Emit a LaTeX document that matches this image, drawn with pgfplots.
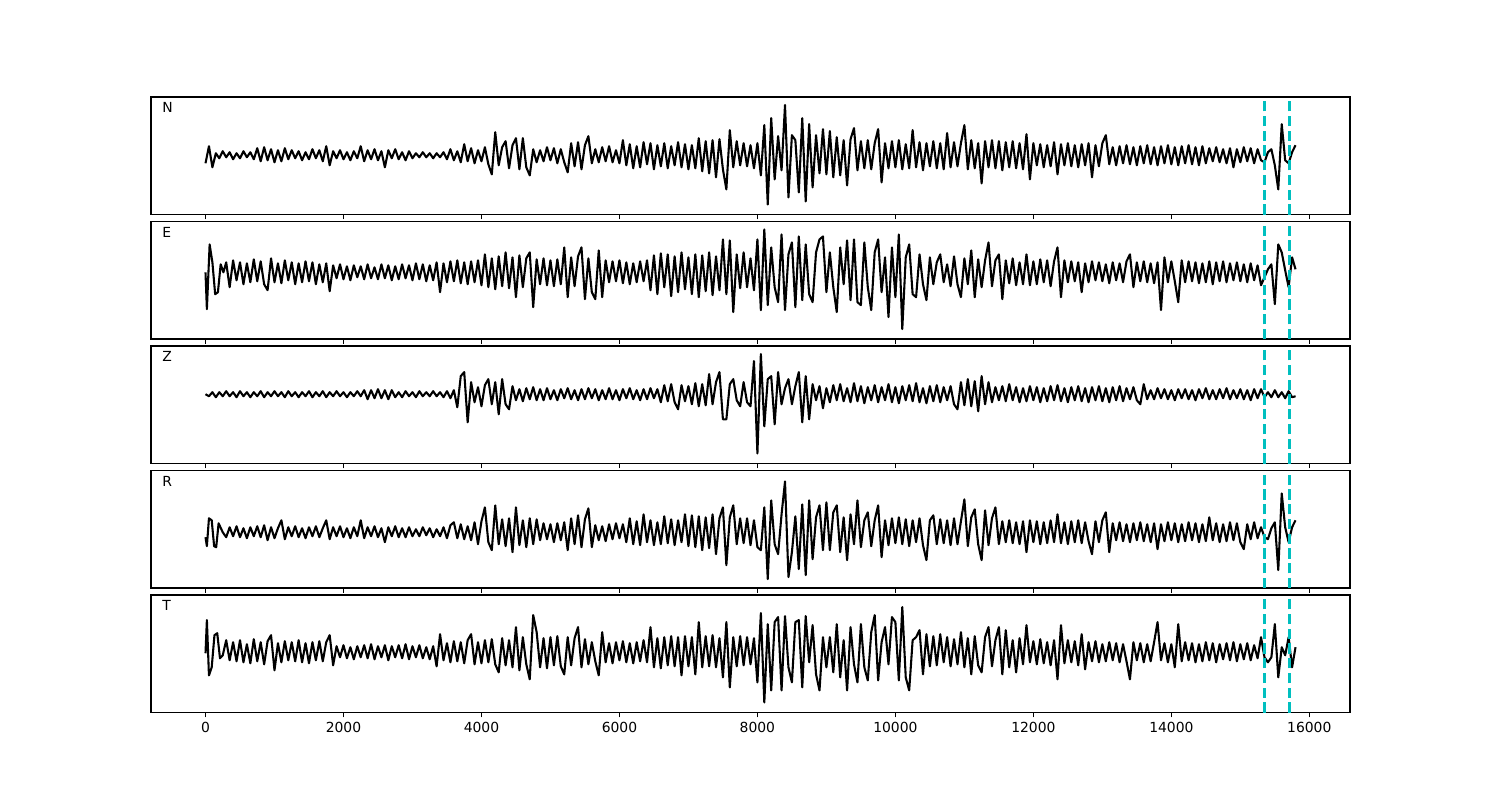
\documentclass[border=0pt]{standalone}
\usepackage{fontspec}
\setmainfont{DejaVu Sans}
\usepackage{pgfplots}
\pgfplotsset{compat=1.18}
\definecolor{dcyan}{HTML}{00BFBF}
\tikzset{lab/.style={anchor=north west, inner sep=0pt, font=\fontsize{10}{12}\selectfont}}
\pgfplotsset{
  panel/.style={
    scale only axis, width=863.3pt, height=84.6pt,
    xmin=-790, xmax=16590,
    ytick=\empty,
    xtick={0,2000,...,16000},
    xtick pos=left,
    tick align=outside,
    major tick length=3.5pt,
    axis line style={line width=0.8pt},
    every tick/.style={black, line width=0.8pt},
    tick label style={font=\fontsize{10}{12}\selectfont},
    /pgf/number format/assume math mode=true,
    /pgf/number format/1000 sep={},
    scaled x ticks=false,
    anchor=north west,
  },
  trace/.style={black, line width=1.5pt, no markers, line join=round},
  vline/.style={dcyan, line width=2pt, dash pattern=on 7.4pt off 3.2pt, no markers},
}
\begin{document}
\begin{tikzpicture}
\useasboundingbox (0,0) rectangle (1080pt,-576pt);
% ---------------- N ----------------
\begin{axis}[panel, at={(108.72pt,-69.84pt)}, ymin=-59, ymax=58, xticklabels={}]
\addplot[trace] coordinates {
(0,-8)(50,9)(100,-12)(150,2)(200,-3)(250,4)(300,-2)(350,3)(400,-4)(450,2)(500,-3)(550,4)(600,-2)(650,3)(700,-4)(750,7)(800,-6)(850,8)(900,-5)(950,6)
(1000,-7)(1050,5)(1100,-6)(1150,7)(1200,-4)(1250,5)(1300,-3)(1350,4)(1400,-5)(1450,3)(1500,-4)(1550,6)(1600,-3)(1650,5)(1700,-6)(1750,9)(1800,-10)(1850,4)(1900,-3)(1950,5)
(2000,-4)(2050,3)(2100,-5)(2150,4)(2200,-3)(2250,9)(2300,-6)(2350,5)(2400,-4)(2450,6)(2500,-5)(2550,4)(2600,-12)(2650,5)(2700,-3)(2750,6)(2800,-4)(2850,3)(2900,-5)(2950,4)
(3000,-3)(3050,2)(3100,-2)(3150,3)(3200,-2)(3250,2)(3300,-3)(3350,2)(3400,-2)(3450,3)(3500,-4)(3550,6)(3600,-5)(3650,4)(3700,-7)(3750,11)(3800,-6)(3850,7)(3900,-8)(3950,5)
(4000,-6)(4050,8)(4100,-9)(4150,-19)(4200,23)(4250,-10)(4300,8)(4350,14)(4400,-13)(4450,10)(4500,17)(4550,-14)(4600,17)(4650,-12)(4700,-20)(4750,6)(4800,-7)(4850,5)(4900,-6)(4950,8)
(5000,-5)(5050,7)(5100,-8)(5150,6)(5200,-7)(5250,-17)(5300,12)(5350,-11)(5400,13)(5450,-14)(5500,10)(5550,19)(5600,-8)(5650,6)(5700,-7)(5750,8)(5800,-6)(5850,9)(5900,-7)(5950,5)
(6000,-8)(6050,15)(6100,-10)(6150,11)(6200,-13)(6250,9)(6300,-12)(6350,13)(6400,-9)(6450,12)(6500,-14)(6550,10)(6600,-11)(6650,12)(6700,-13)(6750,9)(6800,-10)(6850,13)(6900,-12)(6950,11)
(7000,-14)(7050,10)(7100,-13)(7150,17)(7200,-16)(7250,14)(7300,-18)(7350,15)(7400,-22)(7450,16)(7500,-14)(7550,-34)(7600,25)(7650,-12)(7700,14)(7750,-10)(7800,12)(7850,-11)(7900,10)(7950,-13)
(8000,12)(8050,-20)(8100,30)(8150,-49)(8200,37)(8250,-24)(8300,19)(8350,-15)(8400,50)(8450,-42)(8500,20)(8550,15)(8600,-37)(8650,37)(8700,-46)(8750,31)(8800,-32)(8850,20)(8900,-18)(8950,26)
(9000,-19)(9050,24)(9100,-22)(9150,18)(9200,-20)(9250,15)(9300,-30)(9350,16)(9400,27)(9450,-15)(9500,14)(9550,-13)(9600,15)(9650,-14)(9700,12)(9750,26)(9800,-27)(9850,12)(9900,-13)(9950,14)
(10000,-12)(10050,15)(10100,-14)(10150,11)(10200,-13)(10250,25)(10300,-12)(10350,13)(10400,-15)(10450,12)(10500,-11)(10550,14)(10600,-13)(10650,12)(10700,-14)(10750,22)(10800,-12)(10850,13)(10900,-11)(10950,12)
(11000,30)(11050,-14)(11100,15)(11150,-13)(11200,12)(11250,-28)(11300,14)(11350,-12)(11400,15)(11450,-13)(11500,14)(11550,-15)(11600,13)(11650,-12)(11700,14)(11750,-13)(11800,12)(11850,-14)(11900,21)(11950,-24)
(12000,12)(12050,-10)(12100,11)(12150,-12)(12200,10)(12250,-11)(12300,13)(12350,-19)(12400,11)(12450,-10)(12500,12)(12550,-11)(12600,10)(12650,-12)(12700,11)(12750,-10)(12800,12)(12850,-22)(12900,10)(12950,-11)
(13000,12)(13050,20)(13100,-9)(13150,8)(13200,-10)(13250,9)(13300,-8)(13350,10)(13400,-9)(13450,8)(13500,-10)(13550,9)(13600,-8)(13650,10)(13700,-9)(13750,8)(13800,-10)(13850,9)(13900,-8)(13950,10)
(14000,-9)(14050,8)(14100,-10)(14150,9)(14200,-8)(14250,10)(14300,-9)(14350,8)(14400,-10)(14450,9)(14500,-8)(14550,7)(14600,-6)(14650,8)(14700,-7)(14750,6)(14800,-8)(14850,7)(14900,-12)(14950,6)
(15000,-7)(15050,8)(15100,-6)(15150,7)(15200,-8)(15250,6)(15300,-5)(15350,-7)(15400,3)(15450,6)(15500,-10)(15550,-34)(15600,31)(15650,-5)(15700,-8)(15750,3)(15800,10)
};
\addplot[vline] coordinates {(15350,-59)(15350,58)};
\addplot[vline] coordinates {(15710,-59)(15710,58)};
\node[lab] at (rel axis cs:0.0092,0.955) {N};
\end{axis}
% ---------------- E ----------------
\begin{axis}[panel, at={(108.72pt,-159.48pt)}, ymin=-67, ymax=51, xticklabels={}]
\addplot[trace] coordinates {
(0,0)(20,-37)(60,28)(100,10)(140,-22)(180,-20)(220,8)(260,0)(300,10)(350,-15)(400,12)(450,-8)(500,10)(550,-12)(600,9)(650,-10)(700,13)(750,-9)(800,11)(850,-12)(900,-18)(950,14)
(1000,-10)(1050,9)(1100,-11)(1150,12)(1200,-8)(1250,10)(1300,-12)(1350,9)(1400,-10)(1450,11)(1500,-9)(1550,10)(1600,-12)(1650,8)(1700,-10)(1750,9)(1800,-19)(1850,7)(1900,-6)(1950,8)
(2000,-7)(2050,6)(2100,-8)(2150,7)(2200,-5)(2250,6)(2300,-7)(2350,8)(2400,-6)(2450,5)(2500,-7)(2550,8)(2600,-6)(2650,7)(2700,-8)(2750,6)(2800,-7)(2850,8)(2900,-6)(2950,7)
(3000,-8)(3050,9)(3100,-7)(3150,8)(3200,-9)(3250,7)(3300,-8)(3350,10)(3400,-20)(3450,9)(3500,-10)(3550,11)(3600,-9)(3650,12)(3700,-11)(3750,10)(3800,-12)(3850,11)(3900,-10)(3950,12)
(4000,-13)(4050,18)(4100,-15)(4150,14)(4200,-17)(4250,16)(4300,-14)(4350,20)(4400,-16)(4450,15)(4500,-25)(4550,17)(4600,-15)(4650,14)(4700,20)(4750,-35)(4800,13)(4850,-12)(4900,14)(4950,-13)
(5000,12)(5050,-14)(5100,13)(5150,-12)(5200,25)(5250,-25)(5300,15)(5350,-14)(5400,16)(5450,25)(5500,-27)(5550,14)(5600,-20)(5650,-27)(5700,22)(5750,-25)(5800,12)(5850,-10)(5900,11)(5950,-9)
(6000,12)(6050,-11)(6100,10)(6150,-12)(6200,9)(6250,-10)(6300,11)(6350,-9)(6400,12)(6450,-18)(6500,17)(6550,-22)(6600,19)(6650,-15)(6700,18)(6750,-24)(6800,16)(6850,-20)(6900,20)(6950,-17)
(7000,15)(7050,-22)(7100,18)(7150,-25)(7200,17)(7250,-19)(7300,20)(7350,-23)(7400,16)(7450,-18)(7500,33)(7550,-22)(7600,32)(7650,-40)(7700,18)(7750,-16)(7800,20)(7850,-15)(7900,14)(7950,-18)
(8000,33)(8050,-38)(8100,43)(8150,-33)(8200,25)(8250,-15)(8300,-30)(8350,38)(8400,-38)(8450,18)(8500,30)(8550,-35)(8600,36)(8650,-28)(8700,28)(8750,-22)(8800,-30)(8850,20)(8900,33)(8950,36)
(9000,-20)(9050,20)(9100,-15)(9150,-40)(9200,25)(9250,-12)(9300,32)(9350,-28)(9400,33)(9450,-30)(9500,-33)(9550,30)(9600,-15)(9650,-38)(9700,20)(9750,33)(9800,-20)(9850,15)(9900,-45)(9950,25)
(10000,-25)(10050,38)(10100,-57)(10150,15)(10200,28)(10250,-22)(10300,-25)(10350,18)(10400,-12)(10450,-28)(10500,15)(10550,-12)(10600,10)(10650,18)(10700,-10)(10750,8)(10800,-14)(10850,16)(10900,-12)(10950,-25)
(11000,14)(11050,-12)(11100,22)(11150,-25)(11200,13)(11250,-15)(11300,12)(11350,30)(11400,-14)(11450,12)(11500,18)(11550,-27)(11600,12)(11650,-11)(11700,14)(11750,-13)(11800,10)(11850,-12)(11900,18)(11950,-13)
(12000,11)(12050,-12)(12100,13)(12150,-10)(12200,12)(12250,-14)(12300,11)(12350,25)(12400,-25)(12450,12)(12500,-10)(12550,11)(12600,-9)(12650,10)(12700,-20)(12750,9)(12800,-10)(12850,11)(12900,-8)(12950,10)
(13000,-9)(13050,8)(13100,-11)(13150,10)(13200,-8)(13250,9)(13300,-10)(13350,11)(13400,18)(13450,-15)(13500,10)(13550,-9)(13600,11)(13650,-10)(13700,9)(13750,-11)(13800,10)(13850,-38)(13900,15)(13950,-10)
(14000,11)(14050,-9)(14100,-30)(14150,12)(14200,-10)(14250,11)(14300,-9)(14350,10)(14400,-11)(14450,9)(14500,-10)(14550,11)(14600,-12)(14650,10)(14700,-9)(14750,11)(14800,-10)(14850,9)(14900,-8)(14950,10)
(15000,-9)(15050,8)(15100,-10)(15150,9)(15200,-8)(15250,7)(15300,-13)(15350,-5)(15400,3)(15450,8)(15500,-32)(15550,28)(15600,20)(15650,2)(15700,-15)(15750,15)(15800,3)
};
\addplot[vline] coordinates {(15350,-67)(15350,51)};
\addplot[vline] coordinates {(15710,-67)(15710,51)};
\node[lab] at (rel axis cs:0.0092,0.955) {E};
\end{axis}
% ---------------- Z ----------------
\begin{axis}[panel, at={(108.72pt,-249.12pt)}, ymin=-69, ymax=48, xticklabels={}]
\addplot[trace] coordinates {
(0,0)(50,-2)(100,2)(150,-3)(200,2)(250,-2)(300,3)(350,-2)(400,2)(450,-3)(500,3)(550,-2)(600,2)(650,-3)(700,2)(750,-2)(800,3)(850,-3)(900,2)(950,-2)
(1000,3)(1050,-2)(1100,2)(1150,-3)(1200,3)(1250,-2)(1300,2)(1350,-3)(1400,2)(1450,-2)(1500,3)(1550,-3)(1600,2)(1650,-2)(1700,3)(1750,-3)(1800,2)(1850,-2)(1900,3)(1950,-2)
(2000,2)(2050,-3)(2100,2)(2150,-2)(2200,3)(2250,-2)(2300,4)(2350,-5)(2400,4)(2450,-4)(2500,5)(2550,-4)(2600,4)(2650,-5)(2700,4)(2750,-3)(2800,2)(2850,-3)(2900,3)(2950,-2)
(3000,2)(3050,-3)(3100,3)(3150,-2)(3200,2)(3250,-2)(3300,3)(3350,-2)(3400,2)(3450,-3)(3500,3)(3550,-4)(3600,4)(3650,-13)(3700,18)(3750,22)(3800,-28)(3850,12)(3900,-8)(3950,7)
(4000,-12)(4050,9)(4100,15)(4150,-10)(4200,12)(4250,-20)(4300,15)(4350,-10)(4400,-15)(4450,8)(4500,-6)(4550,5)(4600,-7)(4650,6)(4700,-5)(4750,7)(4800,-6)(4850,5)(4900,-6)(4950,6)
(5000,-5)(5050,4)(5100,-6)(5150,5)(5200,-4)(5250,6)(5300,-5)(5350,4)(5400,-6)(5450,5)(5500,-5)(5550,6)(5600,-4)(5650,5)(5700,-6)(5750,4)(5800,-5)(5850,6)(5900,-5)(5950,4)
(6000,-6)(6050,5)(6100,-4)(6150,6)(6200,-5)(6250,4)(6300,-6)(6350,5)(6400,-5)(6450,6)(6500,-4)(6550,5)(6600,-8)(6650,9)(6700,-7)(6750,10)(6800,-8)(6850,-15)(6900,9)(6950,-7)
(7000,8)(7050,-10)(7100,11)(7150,-12)(7200,10)(7250,-11)(7300,20)(7350,-10)(7400,12)(7450,22)(7500,-25)(7550,-25)(7600,10)(7650,15)(7700,-6)(7750,-12)(7800,12)(7850,-8)(7900,-12)(7950,33)
(8000,-59)(8050,40)(8100,-32)(8150,15)(8200,18)(8250,-30)(8300,22)(8350,-10)(8400,6)(8450,15)(8500,-10)(8550,8)(8600,22)(8650,-28)(8700,18)(8750,-25)(8800,10)(8850,-6)(8900,8)(8950,-14)
(9000,6)(9050,-8)(9100,9)(9150,-6)(9200,10)(9250,-7)(9300,6)(9350,-8)(9400,11)(9450,-7)(9500,8)(9550,-9)(9600,7)(9650,-6)(9700,9)(9750,-8)(9800,7)(9850,-6)(9900,10)(9950,-8)
(10000,7)(10050,-9)(10100,8)(10150,-6)(10200,9)(10250,-7)(10300,11)(10350,-8)(10400,6)(10450,-9)(10500,8)(10550,-7)(10600,9)(10650,-8)(10700,7)(10750,-6)(10800,8)(10850,-10)(10900,-15)(10950,12)
(11000,-11)(11050,15)(11100,-12)(11150,13)(11200,-17)(11250,18)(11300,-10)(11350,12)(11400,-8)(11450,7)(11500,-6)(11550,8)(11600,-7)(11650,10)(11700,-6)(11750,7)(11800,-8)(11850,6)(11900,-7)(11950,8)
(12000,-6)(12050,7)(12100,-8)(12150,6)(12200,-7)(12250,8)(12300,-6)(12350,9)(12400,-7)(12450,6)(12500,-8)(12550,7)(12600,-6)(12650,8)(12700,-7)(12750,6)(12800,-8)(12850,7)(12900,-6)(12950,8)
(13000,-7)(13050,6)(13100,-8)(13150,7)(13200,-6)(13250,8)(13300,-7)(13350,6)(13400,-5)(13450,7)(13500,-6)(13550,-10)(13600,10)(13650,-5)(13700,4)(13750,-5)(13800,6)(13850,-4)(13900,5)(13950,-5)
(14000,4)(14050,-6)(14100,5)(14150,-4)(14200,5)(14250,-5)(14300,4)(14350,-6)(14400,5)(14450,-4)(14500,6)(14550,-5)(14600,4)(14650,-5)(14700,5)(14750,-4)(14800,6)(14850,-5)(14900,4)(14950,-4)
(15000,5)(15050,-5)(15100,4)(15150,-6)(15200,5)(15250,-4)(15300,5)(15350,-3)(15400,2)(15450,-3)(15500,4)(15550,-3)(15600,2)(15650,-4)(15700,3)(15750,-3)(15800,-2)
};
\addplot[vline] coordinates {(15350,-69)(15350,48)};
\addplot[vline] coordinates {(15710,-69)(15710,48)};
\node[lab] at (rel axis cs:0.0092,0.955) {Z};
\end{axis}
% ---------------- R ----------------
\begin{axis}[panel, at={(108.72pt,-338.76pt)}, ymin=-56, ymax=62, xticklabels={}]
\addplot[trace] coordinates {
(0,-5)(20,-14)(50,14)(90,12)(125,-14)(155,-15)(190,9)(250,0)(300,-5)(350,5)(400,-4)(450,6)(500,-5)(550,4)(600,-6)(650,5)(700,-4)(750,6)(800,-5)(850,7)(900,-8)(950,5)
(1000,-6)(1050,4)(1100,12)(1150,-7)(1200,5)(1250,-4)(1300,6)(1350,-5)(1400,4)(1450,-6)(1500,5)(1550,-4)(1600,6)(1650,-5)(1700,4)(1750,12)(1800,-7)(1850,5)(1900,-4)(1950,6)
(2000,-5)(2050,4)(2100,-6)(2150,5)(2200,-4)(2250,12)(2300,-6)(2350,5)(2400,-4)(2450,6)(2500,-5)(2550,4)(2600,-10)(2650,5)(2700,-4)(2750,6)(2800,-5)(2850,4)(2900,-5)(2950,5)
(3000,-4)(3050,3)(3100,-4)(3150,5)(3200,-3)(3250,4)(3300,-5)(3350,3)(3400,-4)(3450,5)(3500,-6)(3550,7)(3600,10)(3650,-6)(3700,8)(3750,-7)(3800,6)(3850,-8)(3900,10)(3950,-12)
(4000,11)(4050,25)(4100,-10)(4150,-18)(4200,27)(4250,-12)(4300,13)(4350,-14)(4400,14)(4450,-20)(4500,25)(4550,-13)(4600,12)(4650,-15)(4700,14)(4750,-12)(4800,13)(4850,-8)(4900,9)(4950,-7)
(5000,8)(5050,-10)(5100,9)(5150,-8)(5200,10)(5250,-18)(5300,14)(5350,-12)(5400,17)(5450,-15)(5500,13)(5550,24)(5600,-15)(5650,7)(5700,-8)(5750,6)(5800,-9)(5850,8)(5900,-7)(5950,9)
(6000,-6)(6050,8)(6100,-10)(6150,14)(6200,-12)(6250,11)(6300,-13)(6350,18)(6400,-10)(6450,12)(6500,-13)(6550,10)(6600,-12)(6650,16)(6700,-11)(6750,13)(6800,-13)(6850,12)(6900,-10)(6950,18)
(7000,-14)(7050,17)(7100,-15)(7150,16)(7200,-18)(7250,15)(7300,-16)(7350,18)(7400,-22)(7450,14)(7500,25)(7550,-33)(7600,15)(7650,27)(7700,-12)(7750,14)(7800,-11)(7850,14)(7900,-13)(7950,12)
(8000,-15)(8050,-18)(8100,25)(8150,-47)(8200,32)(8250,-12)(8300,-22)(8350,18)(8400,51)(8450,-45)(8500,-20)(8550,16)(8600,-37)(8650,28)(8700,-43)(8750,32)(8800,-27)(8850,15)(8900,27)(8950,-18)
(9000,30)(9050,-18)(9100,20)(9150,27)(9200,-20)(9250,15)(9300,-28)(9350,18)(9400,-12)(9450,32)(9500,-15)(9550,12)(9600,20)(9650,-14)(9700,12)(9750,27)(9800,-25)(9850,12)(9900,-13)(9950,14)
(10000,-11)(10050,15)(10100,-12)(10150,13)(10200,-14)(10250,12)(10300,-10)(10350,14)(10400,-13)(10450,-28)(10500,12)(10550,17)(10600,-12)(10650,13)(10700,-11)(10750,12)(10800,-13)(10850,14)(10900,-12)(10950,11)
(11000,33)(11050,-14)(11100,15)(11150,23)(11200,-12)(11250,-28)(11300,22)(11350,-13)(11400,14)(11450,25)(11500,-12)(11550,11)(11600,-10)(11650,12)(11700,-11)(11750,10)(11800,-12)(11850,11)(11900,-20)(11950,12)
(12000,-10)(12050,11)(12100,-12)(12150,10)(12200,-11)(12250,12)(12300,-10)(12350,18)(12400,-11)(12450,10)(12500,-12)(12550,11)(12600,-10)(12650,12)(12700,-11)(12750,10)(12800,-9)(12850,-22)(12900,11)(12950,-10)
(13000,12)(13050,20)(13100,-20)(13150,9)(13200,-8)(13250,10)(13300,-9)(13350,8)(13400,-10)(13450,9)(13500,-8)(13550,10)(13600,-9)(13650,8)(13700,-10)(13750,9)(13800,-17)(13850,8)(13900,-9)(13950,10)
(14000,-8)(14050,9)(14100,-10)(14150,8)(14200,-9)(14250,10)(14300,-8)(14350,9)(14400,-10)(14450,8)(14500,-9)(14550,15)(14600,-8)(14650,9)(14700,-10)(14750,8)(14800,-9)(14850,10)(14900,-8)(14950,9)
(15000,-10)(15050,-17)(15100,8)(15150,-7)(15200,10)(15250,-6)(15300,5)(15350,-5)(15400,-7)(15450,4)(15500,10)(15550,-38)(15600,39)(15650,5)(15700,-10)(15750,5)(15800,12)
};
\addplot[vline] coordinates {(15350,-56)(15350,62)};
\addplot[vline] coordinates {(15710,-56)(15710,62)};
\node[lab] at (rel axis cs:0.0092,0.955) {R};
\end{axis}
% ---------------- T ----------------
\begin{axis}[panel, at={(108.72pt,-428.4pt)}, ymin=-60, ymax=57]
\addplot[trace] coordinates {
(0,-1)(20,32)(50,-23)(90,-15)(130,17)(170,19)(210,-6)(250,-3)(300,12)(350,-8)(400,10)(450,-9)(500,12)(550,-10)(600,8)(650,-11)(700,13)(750,-9)(800,10)(850,-12)(900,11)(950,17)
(1000,-18)(1050,9)(1100,-10)(1150,11)(1200,-8)(1250,10)(1300,-9)(1350,12)(1400,-10)(1450,9)(1500,-11)(1550,10)(1600,-8)(1650,11)(1700,-9)(1750,10)(1800,17)(1850,-13)(1900,6)(1950,-5)
(2000,7)(2050,-6)(2100,5)(2150,-7)(2200,6)(2250,-5)(2300,7)(2350,-6)(2400,8)(2450,-7)(2500,6)(2550,-5)(2600,7)(2650,-8)(2700,6)(2750,-5)(2800,7)(2850,-6)(2900,8)(2950,-7)
(3000,6)(3050,-5)(3100,7)(3150,-6)(3200,5)(3250,-7)(3300,6)(3350,-14)(3400,18)(3450,-8)(3500,9)(3550,-10)(3600,11)(3650,-9)(3700,10)(3750,-11)(3800,12)(3850,18)(3900,-12)(3950,10)
(4000,-11)(4050,12)(4100,-10)(4150,13)(4200,-12)(4250,-20)(4300,14)(4350,-13)(4400,12)(4450,-15)(4500,25)(4550,-18)(4600,15)(4650,-12)(4700,-27)(4750,37)(4800,20)(4850,-15)(4900,14)(4950,-16)
(5000,15)(5050,-13)(5100,16)(5150,-14)(5200,-22)(5250,15)(5300,-13)(5350,14)(5400,25)(5450,-15)(5500,13)(5550,-12)(5600,10)(5650,-9)(5700,-23)(5750,20)(5800,-10)(5850,9)(5900,-11)(5950,10)
(6000,-8)(6050,11)(6100,-10)(6150,9)(6200,-11)(6250,10)(6300,-9)(6350,12)(6400,-10)(6450,25)(6500,-15)(6550,14)(6600,-16)(6650,15)(6700,-13)(6750,16)(6800,-14)(6850,15)(6900,-23)(6950,16)
(7000,-14)(7050,15)(7100,-22)(7150,30)(7200,-15)(7250,16)(7300,-14)(7350,17)(7400,-15)(7450,14)(7500,-25)(7550,30)(7600,-35)(7650,15)(7700,-14)(7750,16)(7800,-13)(7850,15)(7900,-12)(7950,14)
(8000,-30)(8050,39)(8100,-50)(8150,28)(8200,-38)(8250,30)(8300,35)(8350,-38)(8400,36)(8450,-15)(8500,-30)(8550,30)(8600,32)(8650,-35)(8700,36)(8750,-10)(8800,27)(8850,-22)(8900,-38)(8950,15)
(9000,-15)(9050,15)(9100,-20)(9150,28)(9200,-25)(9250,12)(9300,-38)(9350,25)(9400,-12)(9450,-30)(9500,28)(9550,-15)(9600,-28)(9650,20)(9700,37)(9750,-28)(9800,10)(9850,25)(9900,-12)(9950,35)
(10000,30)(10050,-28)(10100,45)(10150,-25)(10200,-38)(10250,12)(10300,15)(10350,22)(10400,-22)(10450,18)(10500,-14)(10550,16)(10600,-13)(10650,18)(10700,-10)(10750,15)(10800,-14)(10850,13)(10900,-12)(10950,20)
(11000,-15)(11050,14)(11100,-22)(11150,16)(11200,-13)(11250,-20)(11300,15)(11350,25)(11400,-14)(11450,12)(11500,25)(11550,-22)(11600,22)(11650,-15)(11700,12)(11750,-20)(11800,14)(11850,-12)(11900,27)(11950,-10)
(12000,11)(12050,-12)(12100,13)(12150,-11)(12200,10)(12250,-13)(12300,12)(12350,-27)(12400,27)(12450,-11)(12500,12)(12550,-10)(12600,11)(12650,-13)(12700,18)(12750,-17)(12800,10)(12850,-9)(12900,11)(12950,-10)
(13000,8)(13050,-9)(13100,10)(13150,-8)(13200,9)(13250,-10)(13300,8)(13350,-9)(13400,-27)(13450,10)(13500,-8)(13550,9)(13600,-10)(13650,8)(13700,-9)(13750,10)(13800,30)(13850,-8)(13900,9)(13950,-10)
(14000,8)(14050,-15)(14100,28)(14150,-9)(14200,10)(14250,-8)(14300,9)(14350,-10)(14400,8)(14450,-9)(14500,10)(14550,-8)(14600,9)(14650,-10)(14700,8)(14750,-7)(14800,9)(14850,-8)(14900,10)(14950,-9)
(15000,8)(15050,-7)(15100,9)(15150,-8)(15200,7)(15250,-6)(15300,15)(15350,-5)(15400,-10)(15450,-5)(15500,28)(15550,-25)(15600,5)(15650,-3)(15700,15)(15750,-15)(15800,5)
};
\addplot[vline] coordinates {(15350,-60)(15350,57)};
\addplot[vline] coordinates {(15710,-60)(15710,57)};
\node[lab] at (rel axis cs:0.0092,0.955) {T};
\end{axis}
\end{tikzpicture}
\end{document}
